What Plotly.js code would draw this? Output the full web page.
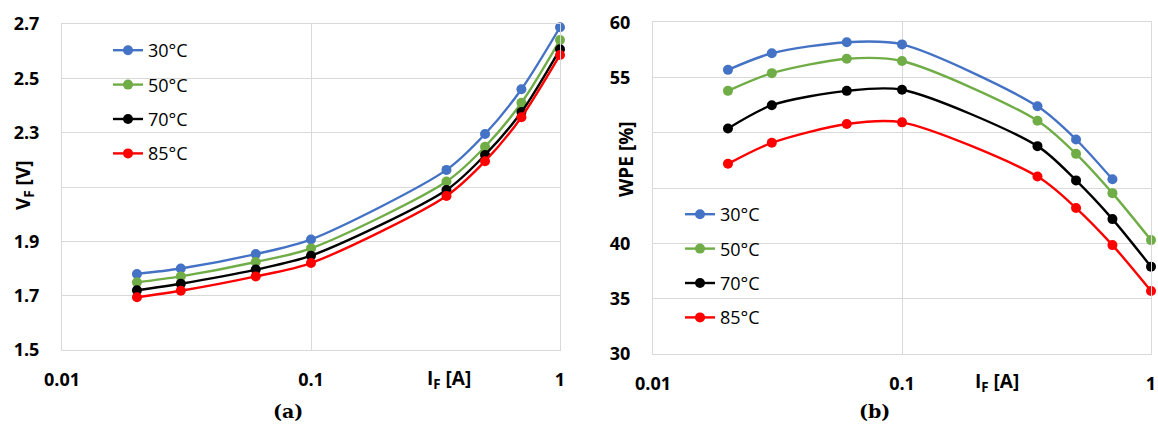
<!DOCTYPE html>
<html>
<head>
<meta charset="utf-8">
<script src="https://cdn.plot.ly/plotly-3.0.1.min.js"></script>
<style>
html,body{margin:0;padding:0;background:#fff;}
#chart{width:1158px;height:426px;}
</style>
</head>
<body>
<div id="chart"></div>
<script>
// ---- data ----
const currentA = [0.02, 0.03, 0.06, 0.1, 0.35, 0.5, 0.7, 1];
const seriesNames = ['30°C', '50°C', '70°C', '85°C'];
const vf30 = [1.78, 1.80, 1.853, 1.907, 2.163, 2.295, 2.46, 2.688];
const vf50 = [1.749, 1.771, 1.824, 1.874, 2.12, 2.248, 2.41, 2.641];
const vf70 = [1.72, 1.744, 1.796, 1.847, 2.089, 2.218, 2.376, 2.607];
const vf85 = [1.694, 1.718, 1.771, 1.82, 2.067, 2.195, 2.357, 2.586];
const wpe30 = [55.7, 57.2, 58.2, 58.0, 52.4, 49.4, 45.8, null];
const wpe50 = [53.8, 55.4, 56.7, 56.5, 51.1, 48.1, 44.55, 40.3];
const wpe70 = [50.4, 52.5, 53.8, 53.9, 48.8, 45.7, 42.2, 37.9];
const wpe85 = [47.2, 49.1, 50.8, 50.95, 46.05, 43.2, 39.85, 35.7];
const xTickVals = [0.01, 0.1, 1];
const xTickText = ['0.01', '0.1', '1'];
const yTickValsA = [1.5, 1.7, 1.9, 2.3, 2.5, 2.7];
const yTickTextA = ['1.5', '1.7', '1.9', '2.3', '2.5', '2.7'];
const yHiddenA = [2.1];           // grid line whose label is covered by the title
const yTickValsB = [30, 35, 40, 55, 60];
const yTickTextB = ['30', '35', '40', '55', '60'];
const yHiddenB = [45, 50];        // grid lines whose labels are covered by the title

// ---- styling ----
const colors = ['#4472C4', '#70AD47', '#000000', '#FF0000'];
const W = 1158, H = 426;
const px = v => v / W;
const py = v => 1 - v / H;
const BOLDFONT = '"Open Sans", "Liberation Sans", sans-serif';
const FONT = '"Open Sans", Lato, sans-serif';

const vfSets = [vf30, vf50, vf70, vf85];
const wpeSets = [wpe30, wpe50, wpe70, wpe85];
const traces = [];
vfSets.forEach((ys, i) => {
  traces.push({
    x: currentA, y: ys, name: seriesNames[i], type: 'scatter', mode: 'lines+markers',
    xaxis: 'x', yaxis: 'y', legend: 'legend', legendgroup: 'a' + i,
    line: {color: colors[i], width: 2.4, shape: 'spline', smoothing: 0.8},
    marker: {color: colors[i], size: 10, symbol: 'circle'},
    cliponaxis: false
  });
});
wpeSets.forEach((ys, i) => {
  traces.push({
    x: currentA, y: ys, name: seriesNames[i], type: 'scatter', mode: 'lines+markers',
    xaxis: 'x2', yaxis: 'y2', legend: 'legend2', legendgroup: 'b' + i,
    line: {color: colors[i], width: 2.4, shape: 'spline', smoothing: 0.8},
    marker: {color: colors[i], size: 10, symbol: 'circle'},
    cliponaxis: false, connectgaps: false
  });
});

const tickFont = {family: BOLDFONT, size: 18, color: '#000', weight: 700};
function xAxis(domain, anchor) {
  return {
    type: 'log', range: [-2, 0], domain: domain, anchor: anchor,
    tickvals: xTickVals, ticktext: xTickText, tickfont: tickFont,
    ticks: 'outside', ticklen: 13, tickcolor: 'rgba(0,0,0,0)',
    showgrid: true, gridcolor: '#d9d9d9', gridwidth: 1,
    showline: true, linecolor: '#d9d9d9', linewidth: 1, mirror: true,
    zeroline: false, automargin: false, fixedrange: true
  };
}
function yAxis(domain, anchor, range, vals, text, hidden) {
  return {
    range: range, domain: domain, anchor: anchor,
    tickvals: vals, ticktext: text, tickfont: tickFont,
    ticks: 'outside', ticklen: 18, tickcolor: 'rgba(0,0,0,0)',
    showgrid: true, gridcolor: '#d9d9d9', gridwidth: 1,
    minor: {tickvals: hidden, showgrid: true, gridcolor: '#d9d9d9', gridwidth: 1, ticks: ''},
    showline: true, linecolor: '#d9d9d9', linewidth: 1, mirror: true,
    zeroline: false, automargin: false, fixedrange: true
  };
}

const legendBase = {
  font: {family: FONT, size: 18, color: '#000'},
  bgcolor: 'rgba(0,0,0,0)', borderwidth: 0,
  xanchor: 'left', yanchor: 'top', traceorder: 'grouped',
  tracegroupgap: 8, itemwidth: 30
};

const titleFont = {family: BOLDFONT, size: 19, color: '#000', weight: 700};
const captionFont = {family: '"DejaVu Serif", "Liberation Serif", serif', size: 19, color: '#000', weight: 700};

const layout = {
  width: W, height: H,
  margin: {l: 0, r: 0, t: 0, b: 0},
  paper_bgcolor: '#fff', plot_bgcolor: '#fff',
  showlegend: true,
  xaxis: xAxis([px(62), px(560)], 'y'),
  yaxis: yAxis([py(350), py(24)], 'x', [1.5, 2.7], yTickValsA, yTickTextA, yHiddenA),
  xaxis2: xAxis([px(653), px(1151)], 'y2'),
  yaxis2: yAxis([py(354), py(22.3)], 'x2', [30, 60], yTickValsB, yTickTextB, yHiddenB),
  legend: Object.assign({}, legendBase, {x: px(108), y: py(32)}),
  legend2: Object.assign({}, legendBase, {x: px(680), y: py(196)}),
  annotations: [
    {xref: 'paper', yref: 'paper', x: px(24), y: py(185), text: 'V<sub>F</sub> [V]', textangle: -90,
     showarrow: false, font: titleFont, xanchor: 'center', yanchor: 'middle'},
    {xref: 'paper', yref: 'paper', x: px(449), y: py(379), text: 'I<sub>F</sub> [A]',
     showarrow: false, font: titleFont, xanchor: 'center', yanchor: 'middle'},
    {xref: 'paper', yref: 'paper', x: px(626), y: py(159), text: 'WPE [%]', textangle: -90,
     showarrow: false, font: titleFont, xanchor: 'center', yanchor: 'middle'},
    {xref: 'paper', yref: 'paper', x: px(997), y: py(382), text: 'I<sub>F</sub> [A]',
     showarrow: false, font: titleFont, xanchor: 'center', yanchor: 'middle'},
    {xref: 'paper', yref: 'paper', x: px(288), y: py(411), text: '(a)',
     showarrow: false, font: captionFont, xanchor: 'center', yanchor: 'middle'},
    {xref: 'paper', yref: 'paper', x: px(874), y: py(411), text: '(b)',
     showarrow: false, font: captionFont, xanchor: 'center', yanchor: 'middle'}
  ]
};

Plotly.newPlot('chart', traces, layout, {displayModeBar: false, staticPlot: true});
</script>
</body>
</html>
